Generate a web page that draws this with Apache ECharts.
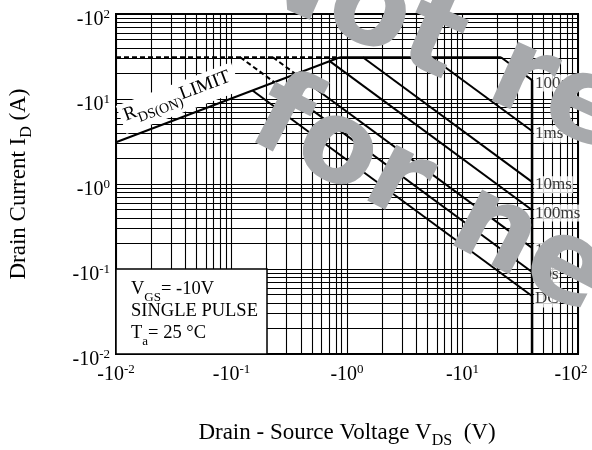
<!DOCTYPE html>
<html><head><meta charset="utf-8">
<script src="https://cdn.jsdelivr.net/npm/echarts@6/dist/echarts.min.js"></script>
<style>html,body{margin:0;padding:0;background:#fff}#c{width:592px;height:450px}</style>
</head><body><div id="c"></div>
<script>
// ---- data ----
const tickExps = [-2, -1, 0, 1, 2];                 // tick labels: -10^n
const decades = [0.01, 0.1, 1, 10];
const gridMultipliers = [1, 2, 3, 4, 5, 6, 7, 8, 9];
const rdsLine = [[0.01, 3.1], [0.87, 31]];          // R_DS(ON) limit
const topDashed = [[0.01, 31], [0.87, 31]];
const topLimit = [[0.87, 31], [21.5, 31]];
const vdsLimit = [[40, 16.7], [40, 0.01]];
const pulseNames = ['100μs', '1ms', '10ms', '100ms', '1s', '10s', 'DC'];
const pulseStart = [[21.5, 31], [5.4, 31], [1.37, 31], [0.708, 27.9], [0.359, 19.7], [0.234, 15.8], [0.152, 12.6]];
const pulseEnd = [[40, 16.7], [40, 4.2], [40, 1.06], [40, 0.494], [40, 0.177], [40, 0.0923], [40, 0.0481]];
const dashedStart = [null, null, null, null, [0.228, 31], [0.119, 31], null];

const serif = '"Liberation Serif", "Times New Roman", serif';
const chart = echarts.init(document.getElementById('c'), null, {renderer: 'canvas'});

const gridVals = [];
decades.forEach(d => gridMultipliers.forEach(m => gridVals.push(+(d * m).toPrecision(3))));
gridVals.push(100);

const richTick = {
  m: {fontFamily: serif, fontSize: 20, color: '#000', lineHeight: 22, verticalAlign: 'bottom'},
  e: {fontFamily: serif, fontSize: 13, color: '#000', lineHeight: 22, verticalAlign: 'top'},
  e2: {fontFamily: serif, fontSize: 13, color: '#000', lineHeight: 22, verticalAlign: 'top', padding: [0, 14, 0, 0]}
};
const richName = {
  a: {fontFamily: serif, fontSize: 23, color: '#000', lineHeight: 28, verticalAlign: 'top'},
  s: {fontFamily: serif, fontSize: 16, color: '#000', lineHeight: 28, verticalAlign: 'bottom'}
};
const fmt = v => '{m|-10}{e|' + Math.round(Math.log10(v)) + '}';
const fmtX = v => v >= 100 ? '{m|-10}{e2|' + Math.round(Math.log10(v)) + '}' : fmt(v);

const blackLine = (data, w, type) => ({
  type: 'line', data: data, showSymbol: false, symbol: 'none', silent: true,
  lineStyle: {color: '#000', width: w, type: type || 'solid'}, z: 5
});

const series = [
  {
    type: 'line', data: [], silent: true,
    markLine: {
      silent: true, symbol: ['none', 'none'], label: {show: false}, animation: false,
      lineStyle: {color: '#000', width: 1.1, type: 'solid'},
      emphasis: {disabled: true},
      data: gridVals.map(v => ({xAxis: v})).concat(gridVals.map(v => ({yAxis: v})))
    }, z: 1
  },
  blackLine(rdsLine, 2),
  blackLine(topDashed, 2, [5, 3]),
  blackLine(topLimit, 2),
  blackLine(vdsLimit, 2.5)
];
pulseStart.forEach((s, i) => {
  series.push(blackLine([s, pulseEnd[i]], 2));
  if (dashedStart[i]) series.push(blackLine([dashedStart[i], s], 2, [5, 3]));
});
series.push({
  type: 'scatter', data: pulseEnd, symbolSize: 0.1, silent: true, itemStyle: {color: 'transparent'}, z: 8,
  label: {
    show: true, position: 'right', distance: 2, offset: [0, 3],
    formatter: p => pulseNames[p.dataIndex],
    fontFamily: serif, fontSize: 17, color: '#000', backgroundColor: '#fff', padding: [0, 1, 0, 1]
  }
});

chart.setOption({
  animation: false,
  backgroundColor: '#fff',
  grid: {left: 116, right: 14, top: 14, bottom: 96, outerBoundsMode: 'none', containLabel: false,
    show: true, borderColor: '#000', borderWidth: 2, backgroundColor: 'transparent'},
  xAxis: {
    type: 'log', logBase: 10, min: 0.01, max: 100,
    axisLine: {show: false}, axisTick: {show: false}, splitLine: {show: false},
    axisLabel: {formatter: fmtX, margin: 9, rich: richTick},
    name: '{a|Drain - Source Voltage V}{s|DS}{a|  (V)}', nameLocation: 'middle', nameGap: 67,
    nameTextStyle: {rich: richName}
  },
  yAxis: {
    type: 'log', logBase: 10, min: 0.01, max: 100,
    axisLine: {show: false}, axisTick: {show: false}, splitLine: {show: false},
    axisLabel: {formatter: fmt, margin: 6, rich: richTick, padding: [10, 0, 0, 0]},
    name: '{a|Drain Current I}{s|D}{a| (A)}', nameLocation: 'middle', nameGap: 81, nameRotate: 90,
    nameTextStyle: {rich: richName}
  },
  series: series
});

// ---- annotations placed via the axes ----
const px = d => chart.convertToPixel({gridIndex: 0}, d);
const bl = px([0.01, 0.01]), tl = px([0.01, 0.1]);
const boxW = 151;
const richLeg = {
  a: {fontFamily: serif, fontSize: 18.5, color: '#000', lineHeight: 24, verticalAlign: 'top'},
  s: {fontFamily: serif, fontSize: 13, color: '#000', lineHeight: 24, verticalAlign: 'bottom'}
};
const r1 = px(rdsLine[0]), r2 = px(rdsLine[1]);
const ang = Math.atan2(r1[1] - r2[1], r2[0] - r1[0]);
const t = 0.31;
const pm = [r1[0] + t * (r2[0] - r1[0]), r1[1] + t * (r2[1] - r1[1])];
const up = [-Math.sin(ang), -Math.cos(ang)];
const lp = [pm[0] + 19 * up[0], pm[1] + 19 * up[1]];
const wm = {fontFamily: '"DejaVu Sans", sans-serif', fontWeight: 'bold', fill: '#A7A9AC', align: 'left', verticalAlign: 'middle'};

chart.setOption({
  graphic: [
    {type: 'rect', shape: {x: tl[0], y: tl[1], width: boxW, height: bl[1] - tl[1]}, style: {fill: '#fff', stroke: '#000', lineWidth: 1.5}, z: 50},
    {type: 'text', x: tl[0] + 15, y: tl[1] + 11, z: 51, style: {text: '{a|V}{s|GS}{a|= -10V}', rich: richLeg, verticalAlign: 'top'}},
    {type: 'text', x: tl[0] + 15, y: tl[1] + 33, z: 51, style: {text: '{a|SINGLE PULSE}', rich: richLeg, verticalAlign: 'top'}},
    {type: 'text', x: tl[0] + 15, y: tl[1] + 55, z: 51, style: {text: '{a|T}{s|a}{a|= 25 °C}', rich: richLeg, verticalAlign: 'top'}},
    {type: 'text', x: lp[0], y: lp[1], rotation: ang, z: 52,
      style: {text: '{a|R}{s|DS(ON)}{a|LIMIT}', align: 'center', verticalAlign: 'middle', backgroundColor: '#fff', padding: [3, 6, 3, 4],
        rich: {a: {fontFamily: serif, fontSize: 19, color: '#000', lineHeight: 24, verticalAlign: 'top'},
               s: {fontFamily: serif, fontSize: 14, color: '#000', lineHeight: 24, verticalAlign: 'bottom'}}}},
    {type: 'text', x: 242, y: -44, rotation: -24 * Math.PI / 180, z: 200, style: Object.assign({text: 'Not recommended', fontSize: 118}, wm)},
    {type: 'text', x: 258, y: 110, rotation: -27.5 * Math.PI / 180, z: 200, style: Object.assign({text: 'for new design', fontSize: 115}, wm)}
  ]
});
</script>
</body></html>
